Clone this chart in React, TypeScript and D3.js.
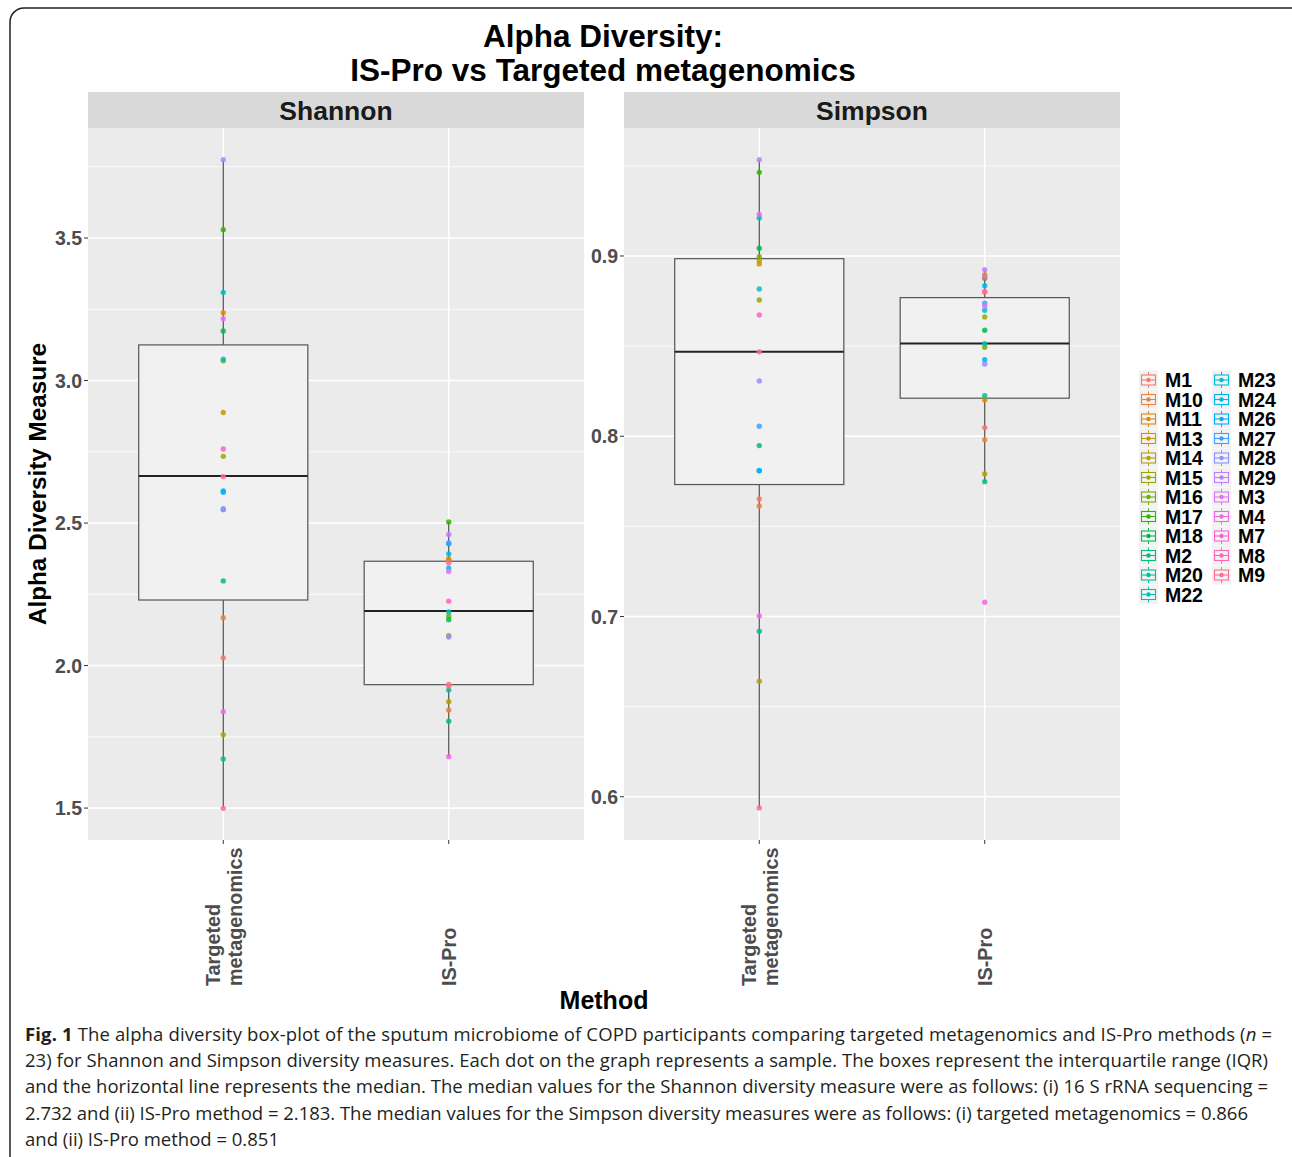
import React from "react";
import * as d3 from "d3";

const samples = ["M1","M10","M11","M13","M14","M15","M16","M17","M18","M2","M20","M22","M23","M24","M26","M27","M28","M29","M3","M4","M7","M8","M9"];
const methods = ["Targeted metagenomics", "IS-Pro"];
const measures = ["Shannon", "Simpson"];

// values in sample order
const shannonTargeted = [2.027,2.168,3.238,2.888,1.757,2.734,3.069,3.529,3.174,2.297,1.672,3.309,3.075,2.608,2.613,2.547,2.550,3.775,3.217,1.838,2.760,2.663,1.499];
const shannonISPro = [1.934,1.844,2.375,2.370,1.873,2.105,2.173,2.504,2.161,1.805,1.914,2.188,2.342,2.392,2.427,2.430,2.100,2.460,2.330,1.680,2.226,2.360,1.928];
const simpsonTargeted = [0.7652,0.7613,0.8974,0.8956,0.6641,0.8756,0.8996,0.9464,0.9043,0.7948,0.6918,0.9211,0.8817,0.7810,0.7808,0.8055,0.8307,0.9534,0.9231,0.7003,0.8673,0.8468,0.5938];
const simpsonISPro = [0.8048,0.7981,0.8201,0.8896,0.7791,0.8662,0.8494,0.8876,0.8588,0.7748,0.8225,0.8514,0.8699,0.8835,0.8425,0.8738,0.8401,0.8924,0.8723,0.7079,0.8885,0.8802,0.8800];

// box stats [lower whisker, q1, median, q3, upper whisker]
const shannonBoxTargeted = [1.499, 2.230, 2.665, 3.125, 3.775];
const shannonBoxISPro = [1.680, 1.933, 2.191, 2.366, 2.504];
const simpsonBoxTargeted = [0.5938, 0.7732, 0.8468, 0.8985, 0.9534];
const simpsonBoxISPro = [0.7748, 0.8211, 0.8514, 0.8769, 0.8924];

const shannonTicks = [1.5, 2.0, 2.5, 3.0, 3.5];
const shannonDomain = [1.388, 3.886];
const simpsonTicks = [0.6, 0.7, 0.8, 0.9];
const simpsonDomain = [0.576, 0.971];

const captionLines = [
  "23) for Shannon and Simpson diversity measures. Each dot on the graph represents a sample. The boxes represent the interquartile range (IQR)",
  "and the horizontal line represents the median. The median values for the Shannon diversity measure were as follows: (i) 16 S rRNA sequencing =",
  "2.732 and (ii) IS-Pro method = 2.183. The median values for the Simpson diversity measures were as follows: (i) targeted metagenomics = 0.866",
  "and (ii) IS-Pro method = 0.851",
];
const captionWidths = [1243, 1243, 1223, 0];

// R's hcl() (polar CIE-LUV) -> sRGB hex, as ggplot's hue palette uses
function hclLuv(h: number, c: number, l: number) {
  const Xn = 95.047, Yn = 100, Zn = 108.883;
  const hr = (h * Math.PI) / 180;
  const U = c * Math.cos(hr), V = c * Math.sin(hr);
  const Y = l > 8 ? Yn * Math.pow((l + 16) / 116, 3) : (Yn * l) / 903.3;
  const den = Xn + 15 * Yn + 3 * Zn;
  const u0 = (4 * Xn) / den, v0 = (9 * Yn) / den;
  const up = U / (13 * l) + u0, vp = V / (13 * l) + v0;
  const X = (9 * Y * up) / (4 * vp);
  const Z = -X / 3 - 5 * Y + (3 * Y) / vp;
  const x = X / 100, y = Y / 100, z = Z / 100;
  const lin = [
    3.240479 * x - 1.53715 * y - 0.498535 * z,
    -0.969256 * x + 1.875992 * y + 0.041556 * z,
    0.055648 * x - 0.204043 * y + 1.057311 * z,
  ];
  const g = lin.map((v) => {
    const s = v <= 0.0031308 ? 12.92 * v : 1.055 * Math.pow(v, 1 / 2.4) - 0.055;
    return Math.round(Math.max(0, Math.min(1, s)) * 255);
  });
  return d3.rgb(g[0], g[1], g[2]).formatHex();
}
const colors = samples.map((_, i) => hclLuv(15 + (360 / samples.length) * i, 100, 65));

const FONT = "'Liberation Sans', Arial, sans-serif";
const TOP = 128, BOTTOM = 840;

function Panel({ x0, x1, name, domain, ticks, series, boxes, fmt }: any) {
  const y = d3.scaleLinear().domain(domain).range([BOTTOM, TOP]);
  const x = d3.scalePoint().domain(methods).range([x0, x1]).padding(0.6);
  const step = x.step();
  const bw = step * 0.75;
  const minor: number[] = [];
  for (let i = 0; i < ticks.length + 1; i++) {
    const d = ticks[1] - ticks[0];
    const v = ticks[0] - d / 2 + i * d;
    if (v > domain[0] && v < domain[1]) minor.push(v);
  }
  return (
    <g>
      <rect x={x0} y={92} width={x1 - x0} height={36} fill="#d9d9d9" />
      <text x={(x0 + x1) / 2} y={120} textAnchor="middle" fontFamily={FONT} fontWeight="bold" fontSize={26.5} fill="#1a1a1a">{name}</text>
      <rect x={x0} y={TOP} width={x1 - x0} height={BOTTOM - TOP} fill="#ebebeb" />
      {minor.map((v) => (
        <line key={"mn" + v} x1={x0} x2={x1} y1={y(v)} y2={y(v)} stroke="#fff" strokeWidth={0.8} />
      ))}
      {ticks.map((v: number) => (
        <line key={"mj" + v} x1={x0} x2={x1} y1={y(v)} y2={y(v)} stroke="#fff" strokeWidth={1.6} />
      ))}
      {methods.map((m) => (
        <line key={"vx" + m} x1={x(m)} x2={x(m)} y1={TOP} y2={BOTTOM} stroke="#fff" strokeWidth={1.6} />
      ))}
      {ticks.map((v: number) => (
        <g key={"t" + v}>
          <line x1={x0 - 4} x2={x0} y1={y(v)} y2={y(v)} stroke="#333" strokeWidth={1} />
          <text x={x0 - 6} y={y(v)} dy="0.36em" textAnchor="end" fontFamily={FONT} fontWeight="bold" fontSize={19.5} fill="#4d4d4d">{fmt(v)}</text>
        </g>
      ))}
      {methods.map((m, mi) => {
        const b = boxes[mi];
        const cx = x(m)!;
        return (
          <g key={"b" + m}>
            <line x1={cx} x2={cx} y1={y(b[4])} y2={y(b[3])} stroke="#4d4d4d" strokeWidth={1.2} />
            <line x1={cx} x2={cx} y1={y(b[1])} y2={y(b[0])} stroke="#4d4d4d" strokeWidth={1.2} />
            <rect x={cx - bw / 2} y={y(b[3])} width={bw} height={y(b[1]) - y(b[3])} fill="#f1f1f1" stroke="#555" strokeWidth={1.2} />
            <line x1={cx - bw / 2} x2={cx + bw / 2} y1={y(b[2])} y2={y(b[2])} stroke="#222" strokeWidth={2} />
            <line x1={cx} x2={cx} y1={BOTTOM} y2={BOTTOM + 4} stroke="#333" strokeWidth={1} />
          </g>
        );
      })}
      {methods.map((m, mi) =>
        series[mi].map((v: number, si: number) => (
          <circle key={m + si} cx={x(m)} cy={y(v)} r={2.7} fill={colors[si]} opacity={0.85} />
        ))
      )}
      {methods.map((m) => {
        const cx = x(m)!;
        const yb = 986;
        if (m === "IS-Pro")
          return (
            <text key={"xl" + m} transform={`translate(${cx + 7},${yb}) rotate(-90)`} fontFamily={FONT} fontWeight="bold" fontSize={19.8} fill="#4d4d4d">IS-Pro</text>
          );
        return (
          <g key={"xl" + m}>
            <text transform={`translate(${cx - 3},${yb}) rotate(-90)`} fontFamily={FONT} fontWeight="bold" fontSize={19.8} fill="#4d4d4d">Targeted</text>
            <text transform={`translate(${cx + 19},${yb}) rotate(-90)`} fontFamily={FONT} fontWeight="bold" fontSize={19.8} fill="#4d4d4d">metagenomics</text>
          </g>
        );
      })}
    </g>
  );
}

function LegendKey({ x, y, color }: any) {
  return (
    <g>
      <rect x={x} y={y - 9.5} width={19} height={19} fill="#f2f2f2" />
      <line x1={x + 9.5} x2={x + 9.5} y1={y - 8} y2={y + 8} stroke={color} strokeWidth={1} />
      <rect x={x + 2.5} y={y - 5} width={14} height={10} fill="#f2f2f2" stroke={color} strokeWidth={1.1} />
      <line x1={x + 2.5} x2={x + 16.5} y1={y} y2={y} stroke={color} strokeWidth={1.1} />
      <circle cx={x + 9.5} cy={y} r={2.2} fill={color} />
    </g>
  );
}

export default function App() {
  const fmt1 = d3.format(".1f");
  const rows = 12;
  return (
    <svg width={1292} height={1157} style={{ position: "absolute", left: 0, top: 0, background: "#fff" }}>
      <rect x={10} y={8} width={1300} height={1170} rx={14} fill="#fff" stroke="#222" strokeWidth={1.5} />
      <text x={603} y={47} textAnchor="middle" fontFamily={FONT} fontWeight="bold" fontSize={31.5} fill="#000">Alpha Diversity:</text>
      <text x={603} y={81} textAnchor="middle" fontFamily={FONT} fontWeight="bold" fontSize={31.5} fill="#000">IS-Pro vs Targeted metagenomics</text>
      <Panel x0={88} x1={584} name={measures[0]} domain={shannonDomain} ticks={shannonTicks}
        series={[shannonTargeted, shannonISPro]} boxes={[shannonBoxTargeted, shannonBoxISPro]} fmt={fmt1} />
      <Panel x0={624} x1={1120} name={measures[1]} domain={simpsonDomain} ticks={simpsonTicks}
        series={[simpsonTargeted, simpsonISPro]} boxes={[simpsonBoxTargeted, simpsonBoxISPro]} fmt={fmt1} />
      <text transform="translate(46,484) rotate(-90)" textAnchor="middle" fontFamily={FONT} fontWeight="bold" fontSize={24.3} fill="#000">Alpha Diversity Measure</text>
      <text x={604} y={1009} textAnchor="middle" fontFamily={FONT} fontWeight="bold" fontSize={25} fill="#000">Method</text>
      {samples.map((s, i) => {
        const col = Math.floor(i / rows);
        const row = i % rows;
        const kx = 1139 + col * 73;
        const ky = 380 + row * 19.5;
        return (
          <g key={s}>
            <LegendKey x={kx} y={ky} color={colors[i]} />
            <text x={kx + 26} y={ky} dy="0.36em" fontFamily={FONT} fontWeight="bold" fontSize={19.5} fill="#000">{s}</text>
          </g>
        );
      })}
      <g fontFamily="'Open Sans', 'Noto Sans', sans-serif" fontSize={18.5} fill="#231f20">
        <text x={25} y={1041} textLength={1247} lengthAdjust="spacing">
          <tspan fontWeight="bold">Fig. 1</tspan>
          <tspan> The alpha diversity box-plot of the sputum microbiome of COPD participants comparing targeted metagenomics and IS-Pro methods (</tspan>
          <tspan fontStyle="italic">n</tspan>
          <tspan> =</tspan>
        </text>
        {captionLines.map((l, i) =>
          captionWidths[i] > 0 ? (
            <text key={i} x={25} y={1067 + i * 26.3} textLength={captionWidths[i]} lengthAdjust="spacing">{l}</text>
          ) : (
            <text key={i} x={25} y={1067 + i * 26.3}>{l}</text>
          )
        )}
      </g>
    </svg>
  );
}
